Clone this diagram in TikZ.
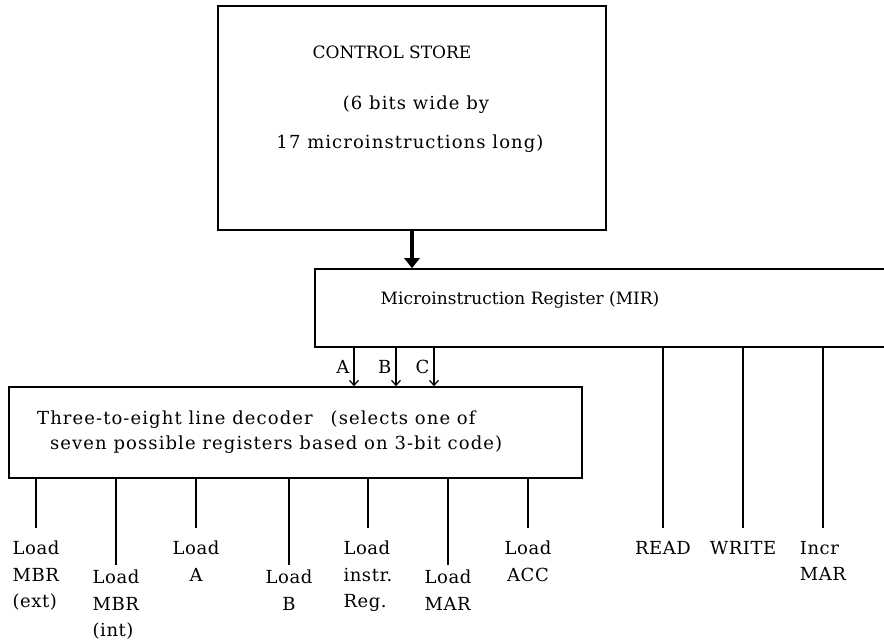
\documentclass[tikz,border=0pt]{standalone}
\usepackage{fontspec}
\setmainfont{DejaVu Serif}
\newfontfamily\wideserif[LetterSpace=6]{DejaVu Serif}
\newfontfamily\lblserif[LetterSpace=3]{DejaVu Serif}
\usepackage{tikz}
\usetikzlibrary{arrows.meta,calc}
\tikzset{
  blk/.style={draw=black,line width=1.6pt,inner sep=0pt},
  txt/.style={font=\fontsize{17}{26.5}\selectfont,inner sep=0pt},
  wtxt/.style={font=\wideserif\fontsize{18}{26.5}\selectfont,inner sep=0pt},
  feed/.style={-{Triangle[length=10pt,width=15pt]},line width=4.5pt},
  sel/.style={-{Straight Barb[length=5pt,width=9pt]},line width=1.2pt},
  wire/.style={line width=1.3pt},
  lbl/.style={font=\lblserif\fontsize{18}{26.5}\selectfont,align=left,anchor=north,inner xsep=0pt,inner ysep=13pt},
  lbll/.style={lbl,inner ysep=5pt},
}
\begin{document}
\begin{tikzpicture}[x=1pt,y=-1pt]
  \clip (0,0) rectangle (884,640);
  \fill[white] (0,0) rectangle (884,640);
  % control store and MIR
  \node[blk,minimum width=388pt,minimum height=224pt] (store) at (412,118) {};
  \node[txt] (storet) at (392,52) {CONTROL STORE};
  \node[wtxt,align=center] (storesz) at (410,124) {\hspace*{12pt}(6 bits wide by\\[12pt]17 microinstructions long)};
  \node[blk,minimum width=600pt,minimum height=78pt] (mir) at (615,308) {};
  \node[txt] (mirt) at (520,300) {Microinstruction Register (MIR)};
  \draw[feed] (store.south) -- (store.south |- mir.north);
  % decoder
  \node[blk,minimum width=573pt,minimum height=91pt] (dec) at (295.5,432.5) {};
  \node[wtxt,anchor=west] (dect1) at (37,420) {Three-to-eight line decoder\quad(selects one of};
  \node[wtxt,anchor=west] (dect2) at (50,445) {seven possible registers based on 3-bit code)};
  \foreach \x/\t in {354/A,396/B,434/C}
    \draw[sel] (mir.south -| \x,0) -- (dec.north -| \x,0) node[midway,left=4pt,wtxt]{\t};
  % control lines
  \node[lbl] (ext) at (36,528) {Load\\MBR\\(ext)};
  \node[lbll] (int) at (116,565) {Load\\MBR\\(int)};
  \node[lbl,align=center] (lda) at (196,528) {Load\\A};
  \node[lbll,align=center] (ldb) at (289,565) {Load\\B};
  \node[lbl] (ins) at (368,528) {Load\\instr.\\Reg.};
  \node[lbll] (mar) at (448,565) {Load\\MAR};
  \node[lbl,align=center] (acc) at (528,528) {Load\\ACC};
  \node[lbl] (rd) at (663,528) {READ};
  \node[lbl] (wr) at (743,528) {WRITE};
  \node[lbl] (inc) at (823,528) {Incr\\MAR};
  \foreach \n in {ext,int,lda,ldb,ins,mar,acc}
    \draw[wire] (dec.south -| \n.north) -- (\n.north);
  \foreach \n in {rd,wr,inc}
    \draw[wire] (mir.south -| \n.north) -- (\n.north);
\end{tikzpicture}
\end{document}
